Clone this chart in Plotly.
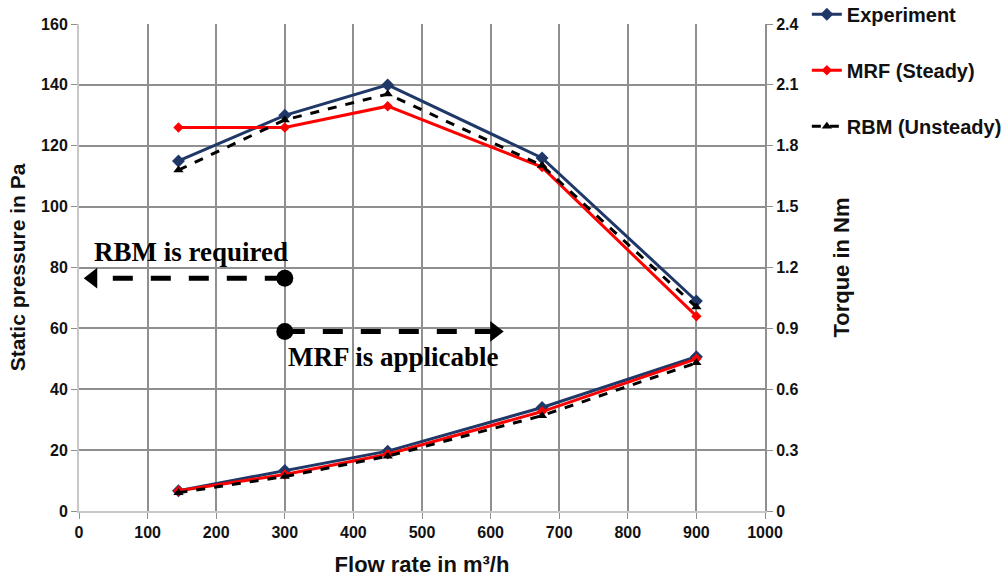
import plotly.graph_objects as go

# Flow rate operating points (m³/h)
flow = [145, 300, 450, 675, 900]

# Static pressure (Pa)
p_experiment = [115, 130, 140, 116, 69]
p_mrf = [126, 126, 133, 113, 64]
p_rbm = [112, 128.5, 137, 113.5, 67]

# Torque (Nm)
t_experiment = [0.10, 0.20, 0.295, 0.51, 0.76]
t_mrf = [0.10, 0.18, 0.28, 0.49, 0.75]
t_rbm = [0.09, 0.17, 0.27, 0.47, 0.73]

x_ticks = [0, 100, 200, 300, 400, 500, 600, 700, 800, 900, 1000]
p_ticks = [0, 20, 40, 60, 80, 100, 120, 140, 160]
t_ticks = [0, 0.3, 0.6, 0.9, 1.2, 1.5, 1.8, 2.1, 2.4]
t_labels = ["0", "0.3", "0.6", "0.9", "1.2", "1.5", "1.8", "2.1", "2.4"]

# Region markers: MRF/RBM applicability split at 300 m³/h
rbm_arrow_x = [300, 20]
rbm_arrow_y = [76.5, 76.5]
mrf_arrow_x = [300, 606]
mrf_arrow_y = [59, 59]

NAVY = "#1f3868"
RED = "#ff0000"
BLACK = "#000000"
SANS = "Liberation Sans, Arial, sans-serif"
SERIF = "Liberation Serif, Times New Roman, serif"

fig = go.Figure()

series = [
    ("Experiment", p_experiment, t_experiment, NAVY, "solid", "diamond", 10),
    ("MRF (Steady)", p_mrf, t_mrf, RED, "solid", "diamond", 8),
    ("RBM (Unsteady)", p_rbm, t_rbm, BLACK, "dash", "triangle-up", 9),
]

for name, p, t, color, dash, sym, msize in series:
    fig.add_trace(go.Scatter(
        x=flow, y=p, name=name, legendgroup=name, mode="lines+markers",
        line=dict(color=color, width=3, dash=dash),
        marker=dict(symbol=sym, size=msize, color=color),
        yaxis="y",
    ))
    fig.add_trace(go.Scatter(
        x=flow, y=t, name=name, legendgroup=name, showlegend=False,
        mode="lines+markers",
        line=dict(color=color, width=3, dash=dash),
        marker=dict(symbol=sym, size=msize, color=color),
        yaxis="y2",
    ))

# Dashed region arrows: shaft, then solid start dot and arrow head
for ax_, ay_, end_sym in [(rbm_arrow_x, rbm_arrow_y, "triangle-left"),
                          (mrf_arrow_x, mrf_arrow_y, "triangle-right")]:
    fig.add_trace(go.Scatter(
        x=ax_, y=ay_, mode="lines", showlegend=False, hoverinfo="skip",
        line=dict(color=BLACK, width=5, dash="20px,18px"),
        yaxis="y",
    ))
    fig.add_trace(go.Scatter(
        x=ax_, y=ay_, mode="markers", showlegend=False, hoverinfo="skip",
        marker=dict(symbol=["circle", end_sym], size=[17, 18], color=BLACK,
                    opacity=1, line=dict(width=0)),
        yaxis="y",
    ))

fig.add_annotation(x=163, y=85, xref="x", yref="y", text="<b>RBM is required</b>",
                   showarrow=False, font=dict(family=SERIF, size=27, color=BLACK))
fig.add_annotation(x=459, y=50.6, xref="x", yref="y", text="<b>MRF is applicable</b>",
                   showarrow=False, font=dict(family=SERIF, size=27, color=BLACK))

grid = "#8f8f8f"
tickfont = dict(family=SANS, size=16, color="#111111", weight="bold")
titlefont = dict(family=SANS, size=22, color="#111111", weight="bold")

fig.update_layout(
    width=1004, height=580,
    margin=dict(l=79, r=239, t=24, b=69, autoexpand=False),
    paper_bgcolor="white", plot_bgcolor="white",
    font=dict(family=SANS),
    xaxis=dict(
        range=[0, 1000], tickvals=x_ticks, showgrid=True, gridcolor=grid, gridwidth=2,
        zeroline=False, showline=True, linecolor="#c8c8c8", linewidth=2,
        ticks="outside", ticklen=6, tickcolor="#8f8f8f", tickfont=tickfont,
        title=dict(text="Flow rate in m³/h", font=titlefont, standoff=16),
    ),
    yaxis=dict(
        range=[0, 160], tickvals=p_ticks, showgrid=True, gridcolor=grid, gridwidth=2,
        zeroline=False, showline=True, linecolor="#c8c8c8", linewidth=2,
        ticks="outside", ticklen=6, tickcolor="#8f8f8f", tickfont=tickfont,
        title=dict(text="Static pressure in Pa", font=dict(titlefont, size=21), standoff=10),
    ),
    yaxis2=dict(
        range=[0, 2.4], tickvals=t_ticks, ticktext=t_labels, overlaying="y", side="right",
        showgrid=False, zeroline=False, showline=True, linecolor="#8f8f8f", linewidth=2,
        ticks="outside", ticklen=6, tickcolor="#8f8f8f", tickfont=tickfont,
        title=dict(text="Torque in Nm", font=titlefont, standoff=36),
    ),
    legend=dict(
        x=1.061, y=1.06, xanchor="left", yanchor="top",
        font=dict(family=SANS, size=20, color="#111111", weight="bold"),
        tracegroupgap=27, bgcolor="rgba(0,0,0,0)",
    ),
)

fig.write_html("out.html")
